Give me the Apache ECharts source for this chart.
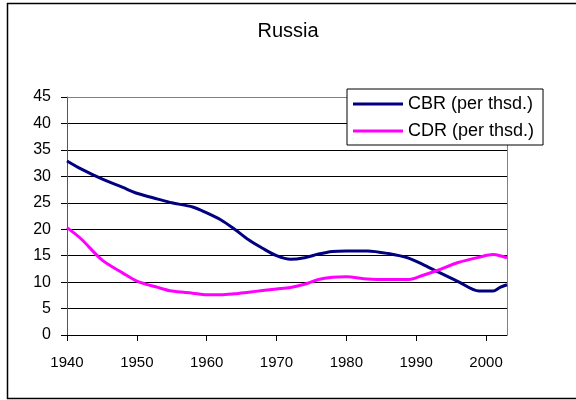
<!DOCTYPE html>
<html>
<head>
<meta charset="utf-8">
<title>Russia</title>
<script src="https://cdn.jsdelivr.net/npm/echarts@6/dist/echarts.min.js"></script>
<style>
  html, body { margin: 0; padding: 0; background: #fff; }
  #chart { width: 576px; height: 400px; }
</style>
</head>
<body>
<div id="chart"></div>
<script>
// years
var years = [1940, 1942, 1945, 1948, 1950, 1953, 1955, 1958, 1960, 1962, 1964, 1966, 1968, 1970,
             1972, 1974, 1976, 1978, 1980, 1983, 1986, 1989, 1991, 1993, 1996, 1999, 2001, 2002, 2003];
// crude birth rate
var cbr = [32.9, 31.4, 29.5, 27.9, 26.8, 25.7, 25.0, 24.2, 23.1, 21.8, 20.0, 18.0, 16.4, 15.0,
           14.3, 14.6, 15.3, 15.8, 15.9, 15.9, 15.4, 14.5, 13.3, 12.0, 10.1, 8.3, 8.3, 9.0, 9.5];
// crude death rate
var cdr = [20.3, 18.2, 14.2, 11.7, 10.2, 9.0, 8.3, 7.9, 7.6, 7.6, 7.8, 8.1, 8.4, 8.7,
           9.0, 9.6, 10.5, 10.9, 11.0, 10.6, 10.5, 10.5, 11.3, 12.2, 13.7, 14.7, 15.2, 15.0, 14.6];
var xTicks = [1940, 1950, 1960, 1970, 1980, 1990, 2000];
var seriesNames = ['CBR (per thsd.)', 'CDR (per thsd.)'];

function pairs(vals) {
    return years.map(function (y, i) { return [y, vals[i]]; });
}

var myChart = echarts.init(document.getElementById('chart'));
var font = 'Liberation Sans, Arial, sans-serif';

var option = {
    animation: false,
    backgroundColor: '#fff',
    title: {
        text: 'Russia',
        left: 'center',
        top: 16,
        textStyle: { fontFamily: font, fontSize: 20, fontWeight: 'normal', color: '#000' }
    },
    graphic: [{
        type: 'rect',
        shape: { x: 7.5, y: 3.5, width: 620, height: 395 },
        style: { fill: 'none', stroke: '#000', lineWidth: 1.5 },
        silent: true
    }, {
        // plot border (top and right)
        type: 'polyline',
        shape: { points: [[67, 97.5], [507.5, 97.5], [507.5, 335]] },
        style: { stroke: '#808080', lineWidth: 1, fill: 'none' },
        z: 1,
        silent: true
    }],
    legend: {
        data: seriesNames,
        orient: 'vertical',
        left: 347,
        top: 89,
        padding: [6, 9, 5, 6],
        itemGap: 9,
        itemWidth: 50,
        itemHeight: 3,
        icon: 'rect',
        backgroundColor: '#fff',
        borderColor: '#000',
        borderWidth: 1,
        textStyle: { fontFamily: font, fontSize: 18, color: '#000' },
        z: 10
    },
    grid: { left: 67, top: 97, right: 69, bottom: 65, containLabel: false },
    xAxis: {
        type: 'value',
        min: 1940,
        max: 2003,
        interval: 10,
        splitLine: { show: false },
        axisLine: { lineStyle: { color: '#000', width: 1 } },
        axisTick: { show: true, length: 6, lineStyle: { color: '#000' }, customValues: xTicks },
        axisLabel: {
            customValues: xTicks,
            formatter: function (v) { return String(v); },
            margin: 20,
            fontFamily: font, fontSize: 15, color: '#000'
        }
    },
    yAxis: {
        type: 'value',
        min: 0,
        max: 45,
        interval: 5,
        splitLine: { show: true, lineStyle: { color: '#000', width: 1 } },
        axisLine: { show: true, lineStyle: { color: '#555', width: 1 } },
        axisTick: { show: true, length: 6, lineStyle: { color: '#000' } },
        axisLabel: { margin: 16, fontFamily: font, fontSize: 16, color: '#000' }
    },
    series: [{
        name: seriesNames[0],
        type: 'line',
        smooth: 0.3,
        symbol: 'none',
        lineStyle: { color: '#000080', width: 3 },
        itemStyle: { color: '#000080' },
        data: pairs(cbr),
        z: 3
    }, {
        name: seriesNames[1],
        type: 'line',
        smooth: 0.3,
        symbol: 'none',
        lineStyle: { color: '#ff00ff', width: 3 },
        itemStyle: { color: '#ff00ff' },
        data: pairs(cdr),
        z: 3
    }]
};
myChart.setOption(option);
</script>
</body>
</html>
